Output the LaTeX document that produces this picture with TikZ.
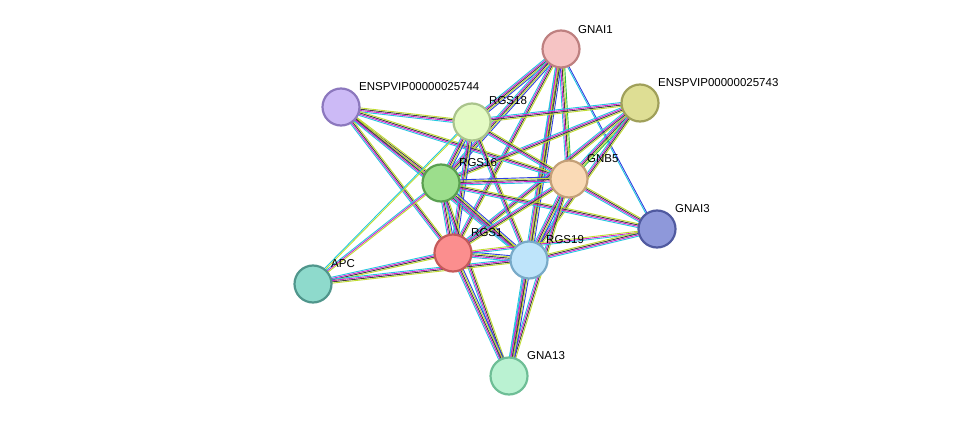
\documentclass[tikz,border=0pt]{standalone}
\usepackage{fontspec}
\setmainfont{Liberation Sans}
\usetikzlibrary{calc}
\definecolor{cya}{HTML}{22C8E0}
\definecolor{mag}{HTML}{D020D0}
\definecolor{ylg}{HTML}{C0DC30}
\definecolor{blk}{HTML}{404040}
\definecolor{blu}{HTML}{3040E0}
\definecolor{grn}{HTML}{30C040}
\newcommand\sedge[3]{%
  \foreach[count=\i] \c in {#3} {%
    \pgfmathsetmacro\o{(\i-3)*1.3}%
    \draw[\c,line width=0.9pt] ($(#1)!\o pt!90:(#2)$) -- ($(#2)!\o pt!-90:(#1)$);}}
\begin{document}
\begin{tikzpicture}[x=1pt,y=-1pt,
  prot/.style={circle,minimum size=37pt,line width=2.2pt,inner sep=0pt},
  lab/.style={font=\fontsize{11.5}{12}\selectfont,anchor=south west,inner sep=1pt}]
\useasboundingbox (0,0) rectangle (976,422);
\coordinate (GNAI1) at (561,49);
\coordinate (E744) at (341,107);
\coordinate (RGS18) at (472,122);
\coordinate (E743) at (640,103);
\coordinate (RGS16) at (441,183);
\coordinate (GNB5) at (569,179);
\coordinate (GNAI3) at (657,229);
\coordinate (RGS1) at (453,253);
\coordinate (RGS19) at (529,260);
\coordinate (APC) at (313,284);
\coordinate (GNA13) at (509,376);
% edges
\sedge{GNAI1}{RGS18}{cya,mag,blk,ylg,blu}
\sedge{GNAI1}{RGS16}{cya,mag,blk,ylg,blu}
\sedge{GNAI1}{GNB5}{cya,mag,blk,ylg,grn}
\sedge{GNAI1}{RGS1}{cya,mag,blk,ylg}
\sedge{GNAI1}{RGS19}{cya,mag,blk,ylg,blu}
\sedge{GNAI1}{GNA13}{cya,mag,ylg,blk}
\sedge{GNAI1}{GNAI3}{cya,blu}
\sedge{E744}{RGS18}{cya,mag,blk,ylg}
\sedge{E744}{RGS16}{cya,mag,blk,ylg}
\sedge{E744}{GNB5}{cya,mag,blk,ylg}
\sedge{E744}{RGS1}{cya,mag,blk,ylg}
\sedge{E744}{RGS19}{cya,mag,blk,ylg}
\sedge{E743}{RGS18}{cya,mag,blk,ylg}
\sedge{E743}{RGS16}{cya,mag,blk,ylg}
\sedge{E743}{GNB5}{cya,mag,blk,ylg,grn}
\sedge{E743}{RGS1}{cya,mag,blk,ylg}
\sedge{E743}{RGS19}{cya,mag,blk,ylg}
\sedge{RGS18}{RGS16}{cya,mag,blk,ylg,blu}
\sedge{RGS18}{GNB5}{cya,mag,blk,ylg}
\sedge{RGS18}{RGS1}{cya,mag,blk,ylg,blu}
\sedge{RGS18}{RGS19}{cya,mag,blk,ylg}
\sedge{RGS18}{APC}{cya,ylg}
\sedge{RGS16}{GNB5}{cya,mag,blk,ylg,blu}
\sedge{RGS16}{RGS1}{cya,mag,blk,ylg,blu}
\sedge{RGS16}{RGS19}{cya,mag,blk,ylg,blu}
\sedge{RGS16}{GNAI3}{cya,mag,blk,ylg}
\sedge{RGS16}{APC}{cya,mag,ylg}
\sedge{RGS16}{GNA13}{cya,mag,blk,ylg}
\sedge{GNB5}{RGS1}{cya,mag,blk,ylg}
\sedge{GNB5}{RGS19}{cya,mag,blk,ylg,blu}
\sedge{GNB5}{GNAI3}{cya,mag,blk,ylg}
\sedge{GNB5}{GNA13}{cya,mag,blk,ylg}
\sedge{RGS1}{RGS19}{cya,mag,blk,ylg,blu}
\sedge{RGS1}{GNAI3}{cya,mag,ylg}
\sedge{RGS1}{APC}{cya,mag,blk,ylg}
\sedge{RGS1}{GNA13}{cya,mag,blk,ylg,blu}
\sedge{RGS19}{GNAI3}{cya,mag,blk,ylg}
\sedge{RGS19}{APC}{cya,mag,blk,ylg}
\sedge{RGS19}{GNA13}{cya,mag,blk,ylg,blu}
% nodes
\node[prot,fill={rgb,255:red,246;green,196;blue,196},draw={rgb,255:red,190;green,128;blue,128}] (nGNAI1) at (GNAI1) {};
\node[prot,fill={rgb,255:red,204;green,186;blue,246},draw={rgb,255:red,140;green,120;blue,190}] (nE744) at (E744) {};
\node[prot,fill={rgb,255:red,228;green,250;blue,196},draw={rgb,255:red,170;green,196;blue,140}] (nRGS18) at (RGS18) {};
\node[prot,fill={rgb,255:red,222;green,222;blue,148},draw={rgb,255:red,160;green,160;blue,90}] (nE743) at (E743) {};
\node[prot,fill={rgb,255:red,156;green,222;blue,140},draw={rgb,255:red,90;green,160;blue,80}] (nRGS16) at (RGS16) {};
\node[prot,fill={rgb,255:red,250;green,218;blue,182},draw={rgb,255:red,196;green,160;blue,120}] (nGNB5) at (GNB5) {};
\node[prot,fill={rgb,255:red,142;green,152;blue,218},draw={rgb,255:red,80;green,90;blue,160}] (nGNAI3) at (GNAI3) {};
\node[prot,fill={rgb,255:red,251;green,142;blue,142},draw={rgb,255:red,196;green,90;blue,90}] (nRGS1) at (RGS1) {};
\node[prot,fill={rgb,255:red,190;green,228;blue,250},draw={rgb,255:red,120;green,170;blue,200}] (nRGS19) at (RGS19) {};
\node[prot,fill={rgb,255:red,142;green,218;blue,204},draw={rgb,255:red,80;green,150;blue,140}] (nAPC) at (APC) {};
\node[prot,fill={rgb,255:red,186;green,242;blue,210},draw={rgb,255:red,110;green,190;blue,150}] (nGNA13) at (GNA13) {};
% labels
\node[lab] (lGNAI1) at (577,35) {GNAI1};
\node[lab] (lE744) at (358,92) {ENSPVIP00000025744};
\node[lab] (lRGS18) at (488,106) {RGS18};
\node[lab] (lE743) at (657,88) {ENSPVIP00000025743};
\node[lab] (lRGS16) at (458,168) {RGS16};
\node[lab] (lGNB5) at (586,164) {GNB5};
\node[lab] (lGNAI3) at (674,214) {GNAI3};
\node[lab] (lRGS1) at (470,238) {RGS1};
\node[lab] (lRGS19) at (545,245) {RGS19};
\node[lab] (lAPC) at (330,269) {APC};
\node[lab] (lGNA13) at (526,361) {GNA13};
\end{tikzpicture}
\end{document}
